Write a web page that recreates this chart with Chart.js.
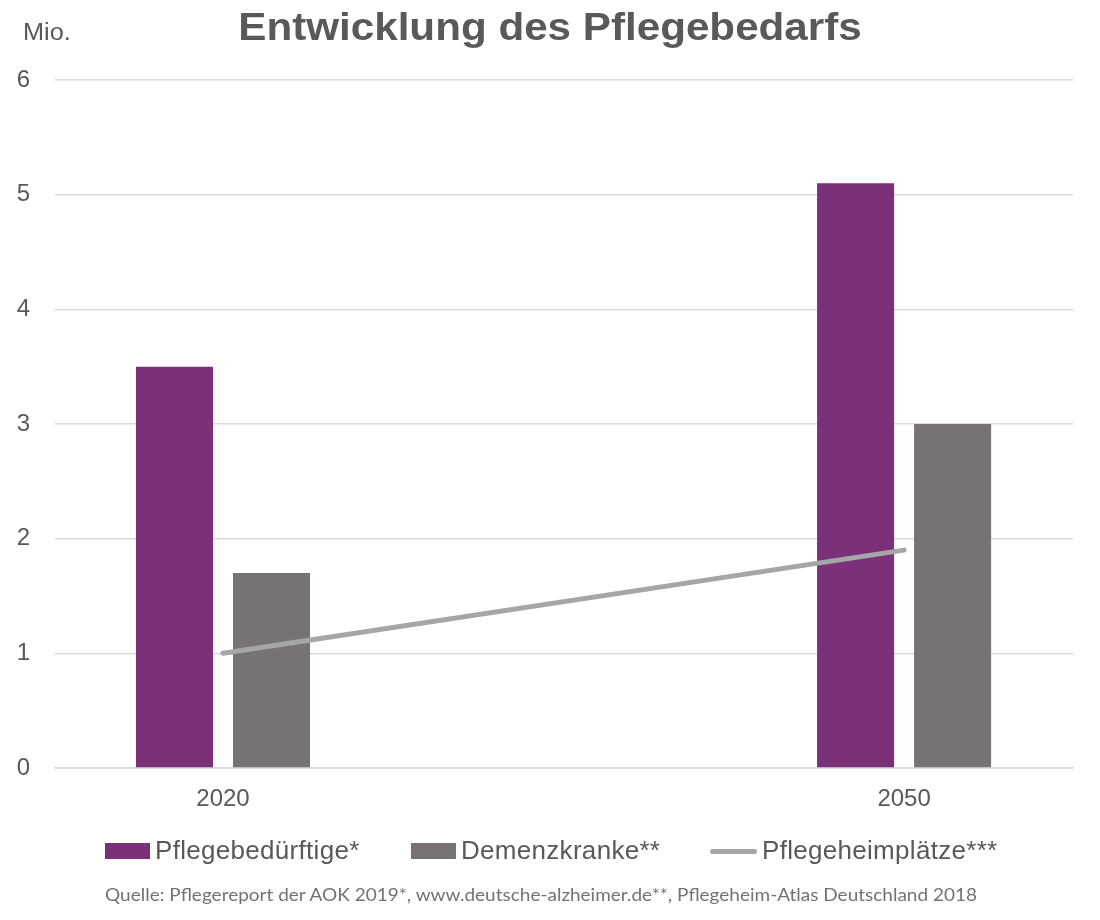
<!DOCTYPE html>
<html>
<head>
<meta charset="utf-8">
<script src="https://cdn.jsdelivr.net/npm/chart.js@4"></script>
<style>
  body { margin: 0; background: #fff; }
  #wrap { position: relative; width: 1100px; height: 920px; background: #fff; font-family: "Liberation Sans", Arial, sans-serif; color: #595959; }
  #c { position: absolute; left: 0; top: 0; }
  #title { position: absolute; left: 0; top: 8px; width: 1100px; text-align: center; font-size: 38px; line-height: 38px; font-weight: bold; transform: scaleX(1.11); transform-origin: 550px 0; white-space: nowrap; }
  #unit { position: absolute; left: 23px; top: 21px; font-size: 23px; line-height: 23px; transform: scaleX(1.1); transform-origin: 0 0; }
  .item { position: absolute; top: 837px; font-size: 26px; line-height: 26px; white-space: nowrap; letter-spacing: 0.3px; }
  .swatch { position: absolute; top: 6px; width: 45px; height: 16px; }
  .lineswatch { position: absolute; top: 12px; width: 47px; height: 5px; border-radius: 3px; }
  #source { position: absolute; left: 105px; top: 886px; font-family: Lato, "Open Sans", sans-serif; font-size: 17.5px; line-height: 17.5px; color: #767171; white-space: nowrap; transform-origin: 0 0; }
</style>
</head>
<body>
<div id="wrap">
  <canvas id="c" width="1100" height="920"></canvas>
  <div id="title">Entwicklung des Pflegebedarfs</div>
  <div id="unit">Mio.</div>
  <div class="item" style="left:105px"><span class="swatch" style="left:0;background:#7B3179"></span><span style="margin-left:50px">Pflegebedürftige*</span></div>
  <div class="item" style="left:411px"><span class="swatch" style="left:0;background:#787372"></span><span style="margin-left:50px">Demenzkranke**</span></div>
  <div class="item" style="left:710px"><span class="lineswatch" style="left:0;background:#A6A6A6"></span><span style="margin-left:52px">Pflegeheimplätze***</span></div>
  <div id="source">Quelle: Pflegereport der AOK 2019*, www.deutsche-alzheimer.de**, Pflegeheim-Atlas Deutschland 2018</div>
</div>
<script>
var years = [2020, 2050];
var pflegebeduerftige = [3.5, 5.1];
var demenzkranke = [1.7, 3.0];
var pflegeheimplaetze = [1.0, 1.9];
var yTicks = [0, 1, 2, 3, 4, 5, 6];

function points(values) {
  return years.map(function(y, i) { return { x: y, y: values[i] }; });
}

// stretch source line to the width seen in the reference
var src = document.getElementById('source');
var w = src.getBoundingClientRect().width;
src.style.transform = 'scaleX(' + (872 / w) + ')';

Chart.defaults.font.family = '"Liberation Sans", Arial, sans-serif';
Chart.defaults.color = '#595959';

var ctx = document.getElementById('c').getContext('2d');
var chart = new Chart(ctx, {
  type: 'bar',
  data: {
    datasets: [
      {
        type: 'line',
        label: 'Pflegeheimplätze***',
        data: points(pflegeheimplaetze),
        borderColor: '#A6A6A6',
        borderWidth: 5,
        borderCapStyle: 'round',
        pointRadius: 0,
        fill: false,
        order: 0
      },
      {
        label: 'Pflegebedürftige*',
        data: points(pflegebeduerftige),
        backgroundColor: '#7B3179',
        barPercentage: 0.794,
        categoryPercentage: 0.2849,
        order: 1
      },
      {
        label: 'Demenzkranke**',
        data: points(demenzkranke),
        backgroundColor: '#787372',
        barPercentage: 0.794,
        categoryPercentage: 0.2849,
        order: 1
      }
    ]
  },
  options: {
    responsive: false,
    animation: false,
    layout: { padding: { left: 0, right: 27, top: 80, bottom: 102 } },
    plugins: { legend: { display: false }, tooltip: { enabled: false } },
    scales: {
      x: {
        type: 'linear',
        offset: false,
        min: 2012.6,
        max: 2057.44,
        grid: { display: false, drawTicks: false, offset: false },
        border: { display: true, color: '#D9D9D9', width: 1.5 },
        afterBuildTicks: function(s) { s.ticks = years.map(function(v) { return { value: v }; }); },
        afterFit: function(s) { s.height = 50; },
        ticks: { padding: 17, color: '#595959', font: { size: 24 }, callback: function(v) { return String(v); } }
      },
      y: {
        min: 0,
        max: 6,
        afterBuildTicks: function(s) { s.ticks = yTicks.map(function(v) { return { value: v }; }); },
        afterFit: function(s) { s.width = 55; },
        grid: { color: '#D9D9D9', lineWidth: 1.5, drawTicks: false },
        border: { display: false },
        ticks: { padding: 25, color: '#595959', font: { size: 24 } }
      }
    }
  }
});
</script>
</body>
</html>
